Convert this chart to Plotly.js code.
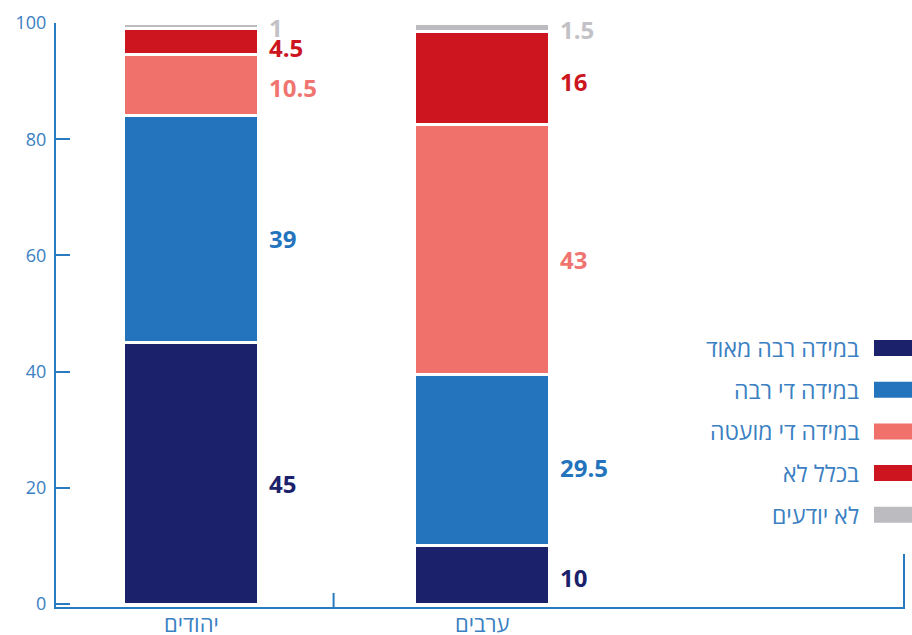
<!DOCTYPE html>
<html>
<head>
<meta charset="utf-8">
<script src="https://cdn.plot.ly/plotly-3.0.1.min.js"></script>
<style>html,body{margin:0;padding:0;background:#fff;}#chart{width:912px;height:635px;}</style>
</head>
<body>
<div id="chart"></div>
<script>
// ---- data ----
const categories = ["יהודים", "ערבים"];
const seriesNames = ["במידה רבה מאוד", "במידה די רבה", "במידה די מועטה", "בכלל לא", "לא יודעים"];
const veryMuch   = [45, 10];
const quiteMuch  = [39, 29.5];
const quiteLittle= [10.5, 43];
const notAtAll   = [4.5, 16];
const dontKnow   = [1, 1.5];
const yTicks = [0, 20, 40, 60, 80, 100];

// ---- styles ----
const series = [veryMuch, quiteMuch, quiteLittle, notAtAll, dontKnow];
const colors = ["#1b226b", "#2374bd", "#f0706b", "#cc151e", "#bcbcc0"];
const labelColors = ["#1b226b", "#2374bd", "#f07470", "#cc151e", "#c2c2c6"];
const axisColor = "#2a7abf";
const textBlue = "#3a80c2";
const font = "'Open Sans', 'Noto Sans', 'DejaVu Sans', sans-serif";
const xPos = categories.map((c, i) => i);
const unitPx = 291;
const barWidth = 135 / unitPx;

const traces = series.map((vals, s) => ({
  type: "bar",
  x: xPos,
  y: vals,
  name: seriesNames[s],
  width: barWidth,
  marker: { color: colors[s], line: { color: "#ffffff", width: 3 } },
  hoverinfo: "skip",
  showlegend: false
}));

const annotations = [];
const shapes = [];
// value labels
xPos.forEach((x, i) => {
  let base = 0;
  series.forEach((vals, s) => {
    const v = vals[i];
    const frac = v < 6 ? 0.3 : 0.46;
    annotations.push({
      x: x + barWidth / 2, y: base + v * frac, xref: "x", yref: "y",
      text: String(v), showarrow: false, xanchor: "left", yanchor: "middle",
      xshift: 8,
      font: { family: font, size: 24, color: labelColors[s], weight: 700 }
    });
    base += v;
  });
});

// category labels under the axis
categories.forEach((c, i) => {
  annotations.push({
    x: xPos[i], y: 0, xref: "x", yref: "paper",
    text: c, showarrow: false, xanchor: "center", yanchor: "middle",
    yshift: -16,
    font: { family: font, size: 22, color: textBlue }
  });
});

// plot area geometry (pixels)
const L = 56, R = 7, T = 23, B = 28, W = 912, H = 635;
const pw = W - L - R, ph = H - T - B;
const px2x = p => (p - L) / pw;
const py2y = p => (H - B - p) / ph;

// manual legend (swatch on the right, RTL)
seriesNames.forEach((name, s) => {
  const cy = 348 + s * 41.7;
  shapes.push({
    type: "rect", xref: "paper", yref: "paper",
    x0: px2x(874), x1: px2x(913), y0: py2y(cy + 8), y1: py2y(cy - 8),
    fillcolor: colors[s], line: { width: 0 }
  });
  annotations.push({
    x: px2x(861), y: py2y(cy), xref: "paper", yref: "paper",
    text: name, showarrow: false, xanchor: "right", yanchor: "middle",
    font: { family: font, size: 23, color: textBlue }
  });
});

// separator tick between categories
shapes.push({
  type: "line", xref: "x", yref: "paper", ysizemode: "pixel", yanchor: 0,
  x0: 0.49, x1: 0.49, y0: 0, y1: 14, line: { color: axisColor, width: 2 }
});
// right vertical line
shapes.push({
  type: "line", xref: "paper", yref: "paper",
  x0: px2x(904), x1: px2x(904), y0: 0, y1: py2y(554), line: { color: axisColor, width: 2 }
});

const layout = {
  width: W, height: H,
  margin: { l: L, r: R, t: T, b: B, pad: 0 },
  paper_bgcolor: "#fff", plot_bgcolor: "#fff",
  barmode: "stack",
  showlegend: false,
  font: { family: font, color: textBlue },
  xaxis: {
    range: [-(191 - L) / unitPx, (W - R - 191) / unitPx],
    showticklabels: false,
    ticks: "", showgrid: false, zeroline: false,
    showline: true, linecolor: axisColor, linewidth: 2,
    fixedrange: true
  },
  yaxis: {
    range: [-0.5, 100],
    tickvals: yTicks,
    ticks: "inside", ticklen: 14, tickwidth: 2, tickcolor: axisColor,
    showgrid: false, zeroline: false,
    showline: true, linecolor: axisColor, linewidth: 2,
    tickfont: { family: font, size: 18, color: textBlue },
    ticklabelstandoff: 4,
    fixedrange: true
  },
  annotations: annotations,
  shapes: shapes
};

Plotly.newPlot("chart", traces, layout, { displayModeBar: false, staticPlot: true });
</script>
</body>
</html>
